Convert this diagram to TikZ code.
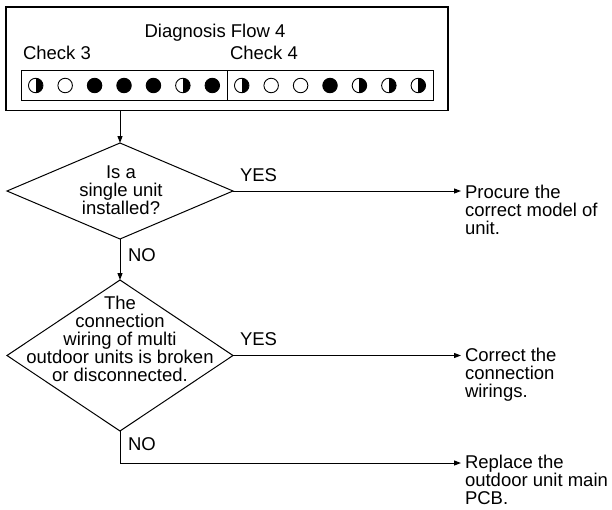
\documentclass[tikz,border=0pt]{standalone}
\usepackage{fontspec}
\setmainfont{Liberation Sans}
\usetikzlibrary{shapes.geometric, arrows.meta, positioning, calc}

\begin{document}
\begin{tikzpicture}[
  x=1pt, y=1pt,
  every node/.style={font=\fontsize{18.5}{18}\selectfont, inner sep=0pt, outer sep=0pt},
  frame/.style={rectangle, draw, line width=1.2pt},
  strip/.style={rectangle, draw, line width=1pt, minimum width=206pt, minimum height=29.5pt},
  lamp/.style={circle, draw, line width=0.9pt, minimum size=14.5pt},
  lampon/.style={lamp, fill=black},
  lampoff/.style={lamp, fill=white},
  lamphalf/.style={lamp, path picture={\fill (path picture bounding box.north) rectangle (path picture bounding box.south east);}},
  decision/.style={diamond, draw, line width=1pt, minimum width=226pt},
  result/.style={align=left, inner xsep=4pt, anchor=north west},
  arrow/.style={-{Triangle[length=7pt,width=5pt]}, line width=1pt},
  node distance=41pt
  ]
  \useasboundingbox (0,0) rectangle (612,-509);
  \node[frame, minimum width=442pt, minimum height=103.5pt] (flow) at (227,-58.75) {};
  \node[anchor=base] (title) at (215,-37.6) {Diagnosis Flow 4};
  \node[anchor=base west] (chk3) at (23,-59.6) {Check 3};
  \node[anchor=base west] (chk4) at (230,-59.6) {Check 4};
  \node[strip, anchor=west] (strip3) at (21,-85.5) {};
  \node[strip, right=0pt of strip3] (strip4) {};
  \foreach \st [count=\i] in {lamphalf,lampoff,lampon,lampon,lampon,lamphalf,lampon}
    \node[\st] (l3-\i) at ($(strip3.west)+({\i*29.43-14.7},0)$) {};
  \foreach \st [count=\i] in {lamphalf,lampoff,lampoff,lampon,lamphalf,lamphalf,lamphalf}
    \node[\st] (l4-\i) at ($(strip4.west)+({\i*29.43-14.7},0)$) {};
  \node[decision, minimum height=96pt] (q1) at (120,-191) {};
  \node[align=center] (q1txt) at (121,-190) {Is a\\single unit\\installed?};
  \node[decision, minimum height=151pt, below=of q1] (q2) {};
  \node[align=center] (q2txt) at (120,-339) {The\\connection\\wiring of multi\\outdoor units is broken\\or disconnected.};
  \node[result] (r1) at (461,-185.3) {Procure the\\correct model of\\unit.};
  \node[result] (r2) at (461,-348.3) {Correct the\\connection\\wirings.};
  \coordinate (elbow) at (120,-463);
  \node[result] (r3) at (461,-455.5) {Replace the\\outdoor unit main\\PCB.};
  \node[anchor=base west] (yes1) at (240,-181.6) {YES};
  \node[anchor=base west] (no1) at (128,-261.6) {NO};
  \node[anchor=base west] (yes2) at (240,-345.6) {YES};
  \node[anchor=base west] (no2) at (128,-450.6) {NO};
  \draw[arrow] (flow.south -| q1.north) -- (q1.north);
  \draw[arrow] (q1.south) -- (q2.north);
  \draw[arrow] (q1.east) -- (q1.east -| r1.west);
  \draw[arrow] (q2.east) -- (q2.east -| r2.west);
  \draw[arrow] (q2.south) -- (elbow) -- (elbow -| r3.west);
\end{tikzpicture}
\end{document}
